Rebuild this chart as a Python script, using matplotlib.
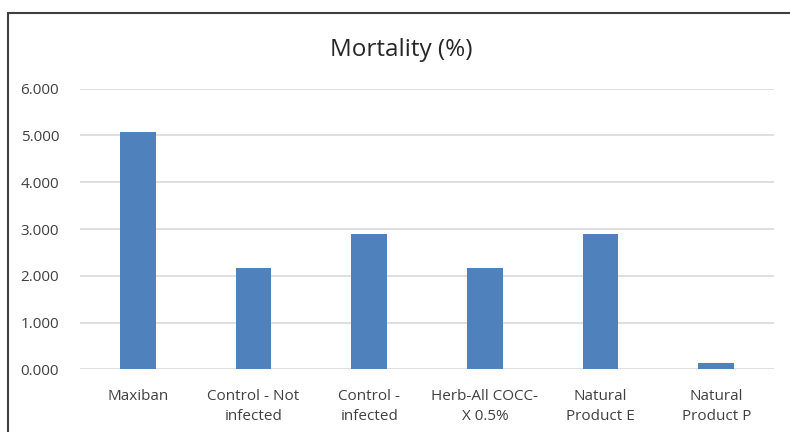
import matplotlib.pyplot as plt
from matplotlib.patches import Rectangle

plt.rcParams['font.family'] = ['Open Sans', 'DejaVu Sans']

# ---- data ----
categories = ['Maxiban', 'Control - Not\ninfected', 'Control -\ninfected',
              'Herb-All COCC-\nX 0.5%', 'Natural\nProduct E', 'Natural\nProduct P']
mortality = [5.07, 2.17, 2.90, 2.17, 2.90, 0.13]
yticks = [0, 1, 2, 3, 4, 5, 6]

text_col = '#404040'

fig = plt.figure(figsize=(7.9, 4.32), dpi=100)
ax = fig.add_axes([0.1013, 0.145, 0.8785, 0.6497])

x = range(len(categories))
ax.bar(x, mortality, width=0.31, color='#4f81bd', zorder=3)

ax.set_xlim(-0.5, len(categories) - 0.5)
ax.set_ylim(0, 6)
ax.set_yticks(yticks)
ax.set_yticklabels([f'{v:.3f}' for v in yticks])
ax.set_xticks(list(x))
ax.set_xticklabels(categories, linespacing=1.45)

ax.grid(axis='y', color='#d9d9d9', linewidth=1.2, zorder=0)
for s in ax.spines.values():
    s.set_visible(False)
ax.tick_params(axis='both', length=0, labelsize=11, colors=text_col)
ax.tick_params(axis='y', pad=15)
ax.tick_params(axis='x', pad=14)

fig.text(0.508, 0.885, 'Mortality (%)', ha='center', va='center',
         fontsize=17.5, color='#262626')

# outer chart frame (cut off at right and bottom)
fig.patches.append(Rectangle((8 / 790, -0.1), 1.2, 1.1 - 13 / 432,
                             transform=fig.transFigure, fill=False,
                             edgecolor='#404040', linewidth=1.5))

plt.savefig('out.png', dpi=100)
